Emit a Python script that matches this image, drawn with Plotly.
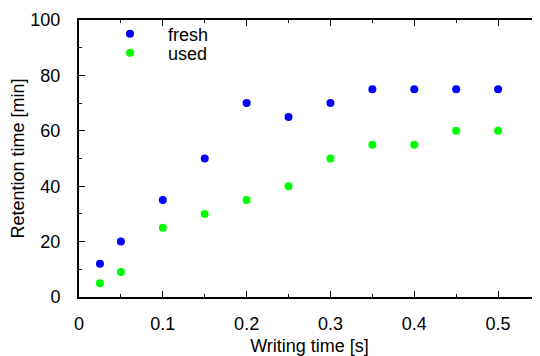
import plotly.graph_objects as go

writing_time = [0.025, 0.05, 0.1, 0.15, 0.2, 0.25, 0.3, 0.35, 0.4, 0.45, 0.5]
fresh = [12, 20, 35, 50, 70, 65, 70, 75, 75, 75, 75]
used = [5, 9, 25, 30, 35, 40, 50, 55, 55, 60, 60]
x_ticks = [0, 0.1, 0.2, 0.3, 0.4, 0.5]
x_ticklabels = ["0", "0.1", "0.2", "0.3", "0.4", "0.5"]
y_ticks = [0, 20, 40, 60, 80, 100]
x_range = [0, 0.55]
y_range = [0, 100]

FONT = "Liberation Sans, Arial, Helvetica, sans-serif"

fig = go.Figure()
fig.add_trace(go.Scatter(x=writing_time, y=fresh, mode="markers", name="fresh",
                         marker=dict(color="#0000ff", size=8), legend="legend", showlegend=True))
fig.add_trace(go.Scatter(x=writing_time, y=used, mode="markers", name="used",
                         marker=dict(color="#00ff00", size=8), legend="legend2", showlegend=True))
# empty helper traces so the tick-only overlay axes are drawn
for xa, ya in [("x2", "y"), ("x3", "y"), ("x", "y2"), ("x", "y3")]:
    fig.add_trace(go.Scatter(x=[], y=[], xaxis=xa, yaxis=ya, mode="markers",
                             showlegend=False, hoverinfo="skip"))

tick_only = dict(showline=False, showticklabels=False, showgrid=False, zeroline=False,
                 ticks="inside", ticklen=6, tickwidth=1, tickcolor="#000000")

fig.update_layout(
    # primary axes: frame line, labels and titles; invisible outside ticks only space the labels
    xaxis=dict(range=x_range, tickvals=x_ticks, ticktext=x_ticklabels,
               showline=True, mirror=True, linecolor="#000000", linewidth=2,
               ticks="outside", ticklen=9, tickwidth=1, tickcolor="rgba(0,0,0,0)",
               showgrid=False, zeroline=False,
               tickfont=dict(family=FONT, size=18, color="black"),
               title=dict(text="Writing time [s]", font=dict(family=FONT, size=18, color="black"), standoff=10)),
    yaxis=dict(range=y_range, tickvals=y_ticks, showline=True, mirror=False,
               linecolor="#000000", linewidth=2,
               ticks="outside", ticklen=13, tickwidth=1, tickcolor="rgba(0,0,0,0)",
               showgrid=False, zeroline=False,
               tickfont=dict(family=FONT, size=18, color="black"),
               title=dict(text="Retention time [min]", font=dict(family=FONT, size=18, color="black"), standoff=5)),
    # overlay axes that draw the inward major and minor ticks on all four sides
    xaxis2=dict(range=x_range, tickvals=x_ticks, overlaying="x", anchor="y", side="bottom",
                minor=dict(ticks="inside", ticklen=3, dtick=0.05, tick0=0, tickcolor="#000000"),
                **tick_only),
    xaxis3=dict(range=x_range, tickvals=x_ticks, overlaying="x", anchor="y", side="top",
                minor=dict(ticks="inside", ticklen=3, dtick=0.05, tick0=0, tickcolor="#000000"),
                **tick_only),
    yaxis2=dict(range=y_range, tickvals=y_ticks, overlaying="y", anchor="x", side="left",
                minor=dict(ticks="inside", ticklen=3, dtick=10, tick0=0, tickcolor="#000000"),
                **tick_only),
    yaxis3=dict(range=y_range, tickvals=y_ticks, overlaying="y", anchor="x", side="right",
                minor=dict(ticks="inside", ticklen=3, dtick=10, tick0=0, tickcolor="#000000"),
                **tick_only),
)

leg_common = dict(xanchor="left", yanchor="middle", bgcolor="rgba(0,0,0,0)",
                  font=dict(family=FONT, size=18, color="black"), itemwidth=66,
                  borderwidth=0)
# page body has an 8px default margin, so the figure is 8px smaller and offset
fig.update_layout(
    width=532, height=348,
    margin=dict(l=71, r=0, t=12, b=59, autoexpand=False),
    paper_bgcolor="white", plot_bgcolor="white",
    font=dict(family=FONT, size=18, color="black"),
    showlegend=True,
    legend=dict(x=13 / 461, y=(297 - 34) / 277, **leg_common),
    legend2=dict(x=13 / 461, y=(297 - 53) / 277, **leg_common),
)

fig.write_html("out.html")
